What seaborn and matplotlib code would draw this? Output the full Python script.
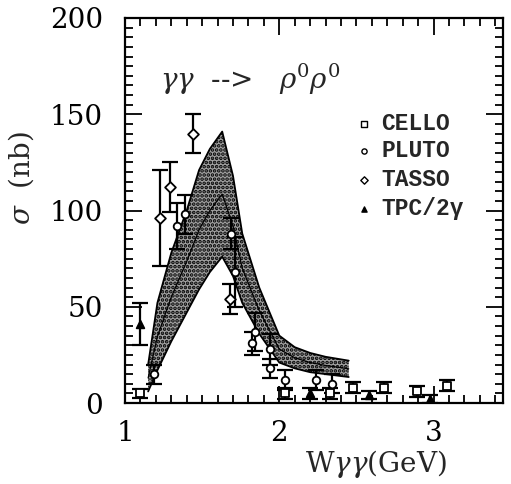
import matplotlib
matplotlib.use("Agg")
import matplotlib.pyplot as plt
import seaborn as sns
import numpy as np
import pandas as pd
from matplotlib.ticker import MultipleLocator

# ---------------- data ----------------
cello_w = [1.10, 2.04, 2.33, 2.48, 2.68, 2.89, 3.09]
cello_s = [5, 5, 5, 8, 8, 6, 9]
cello_e = [2.5, 3, 3, 3, 3, 3, 3]

pluto_w = [1.19, 1.34, 1.39, 1.69, 1.71, 1.82, 1.84, 1.94, 1.94, 2.04, 2.24, 2.34]
pluto_s = [15, 92, 98, 88, 68, 31, 37, 28, 18, 12, 12, 10]
pluto_e = [5, 12, 10, 8, 18, 6, 10, 8, 5, 5, 5, 5]

tasso_w = [1.23, 1.29, 1.44, 1.68]
tasso_s = [96, 112, 140, 54]
tasso_e = [25, 13, 10, 8]

tpc_w = [1.10, 2.20, 2.58, 2.98]
tpc_s = [41, 5, 4, 2]
tpc_e = [11, 3, 2, 2]

# model band (upper / lower envelope)
band_w = [1.15, 1.21, 1.30, 1.40, 1.48, 1.55, 1.63, 1.70, 1.76, 1.87, 2.00, 2.10, 2.20, 2.30, 2.45]
band_hi = [20, 52, 78, 100, 121, 132, 141, 118, 88, 60, 35, 29, 26, 24, 22]
band_lo = [6, 17, 32, 47, 59, 68, 76, 66, 52, 36, 21, 18, 16, 15, 13.5]

legend_labels = ["CELLO", "PLUTO", "TASSO", "TPC/2γ"]
x_ticks = [1, 2, 3]
y_ticks = [0, 50, 100, 150, 200]

# ---------------- figure ----------------
sns.set_style("ticks")
plt.rcParams["font.family"] = ["DejaVu Serif", "DejaVu Sans"]
plt.rcParams["mathtext.fontset"] = "dejavuserif"
plt.rcParams["hatch.linewidth"] = 1.8

fig = plt.figure(figsize=(5.11, 4.84), dpi=100)
ax = fig.add_axes([125 / 511, 81 / 484, 378 / 511, 385 / 484])

# band
band = pd.DataFrame({"w": band_w, "hi": band_hi, "lo": band_lo})
ax.fill_between(band["w"], band["lo"], band["hi"], facecolor="#a0a0a0",
                edgecolor="#000000", hatch="....", linewidth=0, zorder=1)
mid = (band["hi"] + band["lo"]) / 2
sns.lineplot(x=band["w"], y=band["hi"], ax=ax, color="black", lw=1.3, zorder=2)
sns.lineplot(x=band["w"], y=band["lo"], ax=ax, color="black", lw=1.3, zorder=2)
sns.lineplot(x=band["w"], y=mid, ax=ax, color="black", lw=0.9, zorder=2)

series = [
    (cello_w, cello_s, cello_e, "s", "white"),
    (pluto_w, pluto_s, pluto_e, "o", "white"),
    (tasso_w, tasso_s, tasso_e, "D", "white"),
    (tpc_w, tpc_s, tpc_e, "^", "black"),
]
for w, s, e, m, fc in series:
    ax.errorbar(w, s, yerr=e, fmt="none", ecolor="black", elinewidth=1.6,
                capsize=6, capthick=1.6, zorder=3)
    df = pd.DataFrame({"w": w, "s": s})
    sns.scatterplot(data=df, x="w", y="s", ax=ax, marker=m, s=30,
                    facecolor=fc, edgecolor="black", linewidth=1.3, zorder=4)

# legend made of text
leg_y = [145, 131, 116, 101]
leg_m = ["s", "o", "D", "^"]
leg_fc = ["white", "white", "white", "black"]
for lab, yy, m, fc in zip(legend_labels, leg_y, leg_m, leg_fc):
    ax.scatter([2.55], [yy], marker=m, s=14, facecolor=fc, edgecolor="black",
               linewidth=1.0, zorder=5)
    ax.text(2.66, yy, lab, family=["Liberation Mono", "DejaVu Sans Mono"],
            fontweight="bold", fontsize=16.5, va="center", ha="left")

ax.text(1.23, 168, r"$\gamma\gamma$  -->   $\rho^0\rho^0$", fontsize=20,
        va="center", ha="left")

# axes
ax.set_xlim(1, 3.45)
ax.set_ylim(0, 200)
ax.set_xticks(x_ticks)
ax.set_yticks(y_ticks)
ax.xaxis.set_minor_locator(MultipleLocator(0.1))
ax.yaxis.set_minor_locator(MultipleLocator(5))
ax.tick_params(which="both", direction="in", top=True, right=True,
               width=1.3, colors="black")
ax.tick_params(which="major", length=12)
ax.tick_params(which="minor", length=6)
ax.tick_params(axis="x", which="major", labelsize=20, pad=12)
ax.tick_params(axis="y", which="major", labelsize=20, pad=16)
for sp in ax.spines.values():
    sp.set_linewidth(1.6)
    sp.set_color("black")

ax.set_xlabel(r"W$\gamma\gamma$(GeV)", fontsize=20)
ax.set_ylabel(r"$\sigma$  (nb)", fontsize=20)
ax.xaxis.set_label_coords(0.665, -0.118)
ax.yaxis.set_label_coords(-0.235, 0.585)

fig.savefig("out.png", dpi=100)
